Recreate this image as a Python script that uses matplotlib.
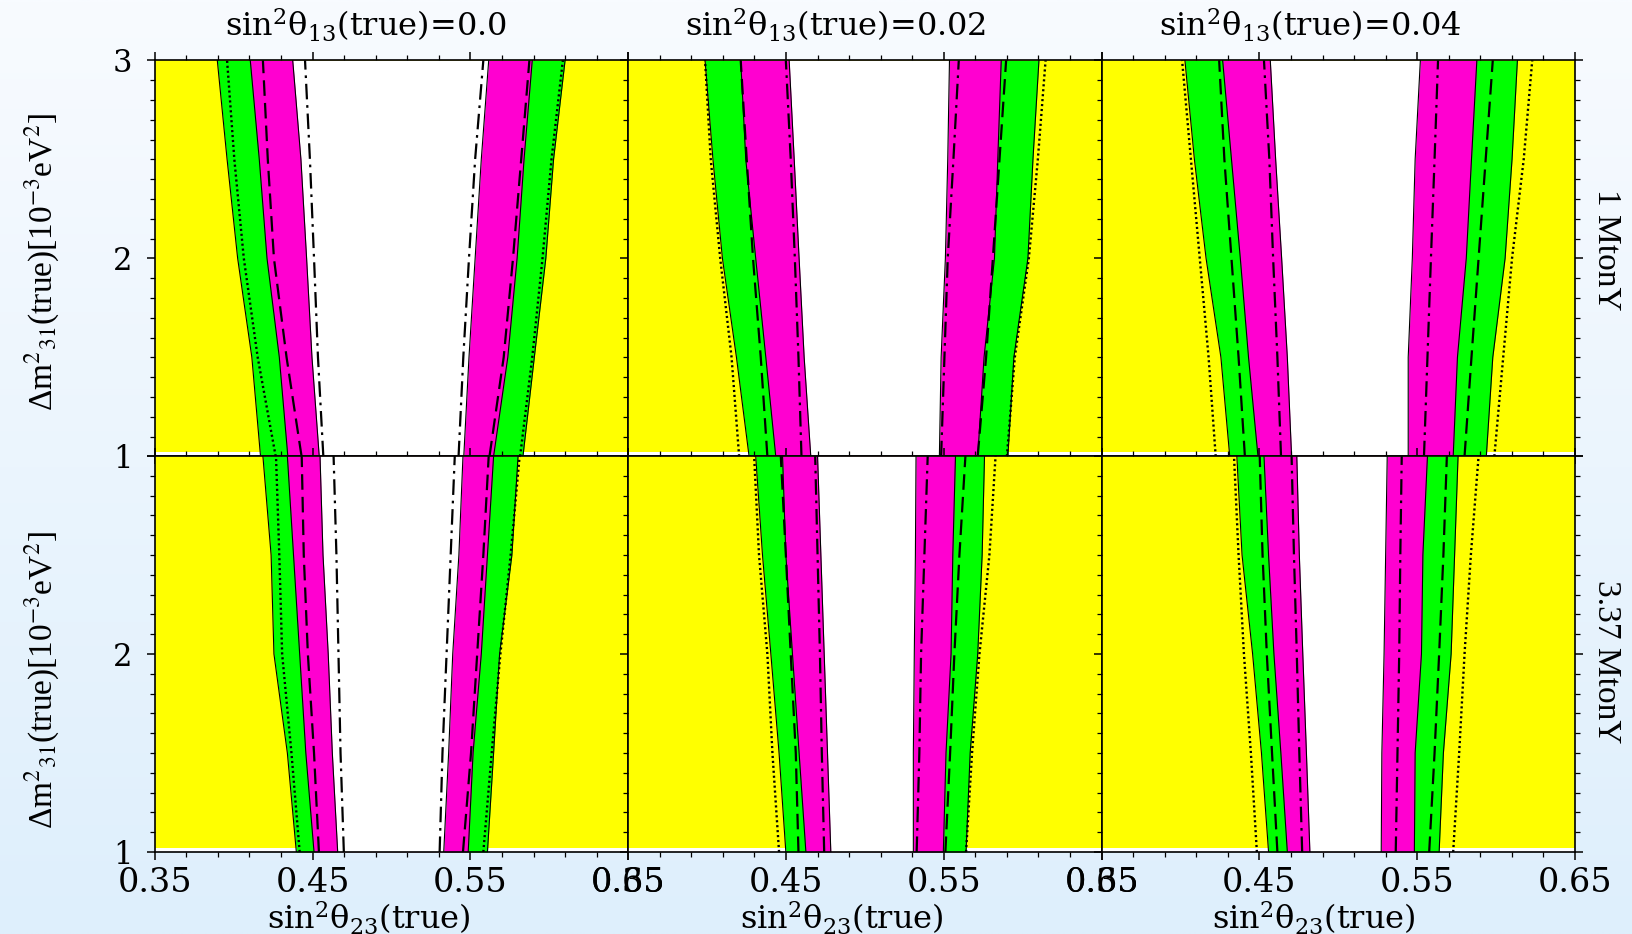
import numpy as np
import matplotlib
matplotlib.use("Agg")
import matplotlib.pyplot as plt
from matplotlib.ticker import FixedLocator

# ---------------- data (sin^2 theta23 boundaries vs Delta m^2_31) ----------------
Y = [1.0, 1.5, 2.0, 2.5, 3.0]

col_titles = ["0.0", "0.02", "0.04"]
row_labels = ["1 MtonY", "3.37 MtonY"]
x_ticks = [0.35, 0.45, 0.55, 0.65]
x_tick_labels = ["0.35", "0.45", "0.55", "0.65"]

# ---- 1 MtonY, sin^2 theta13 = 0.0
m1_s0_dot_L = [0.4266, 0.4152, 0.4064, 0.4004, 0.3958]
m1_s0_grn_L = [0.4170, 0.4115, 0.4025, 0.3958, 0.3896]
m1_s0_gm_L = [0.4343, 0.4289, 0.4211, 0.4162, 0.4105]
m1_s0_dash_L = [0.4430, 0.4335, 0.4255, 0.4216, 0.4185]
m1_s0_mw_L = [0.4542, 0.4496, 0.4462, 0.4426, 0.4374]
m1_s0_dd_L = [0.4568, 0.4534, 0.4509, 0.4483, 0.4452]
m1_s0_mw_R = [0.5458, 0.5491, 0.5530, 0.5569, 0.5616]
m1_s0_dd_R = [0.5425, 0.5455, 0.5491, 0.5530, 0.5582]
m1_s0_dash_R = [0.5621, 0.5711, 0.5770, 0.5822, 0.5874]
m1_s0_gm_R = [0.5647, 0.5737, 0.5796, 0.5840, 0.5892]
m1_s0_dot_R = [0.5815, 0.5892, 0.5957, 0.6014, 0.6086]
m1_s0_grn_R = [0.5833, 0.5905, 0.5978, 0.6027, 0.6100]

# ---- 1 MtonY, sin^2 theta13 = 0.02
m1_s2_dot_L = [0.4203, 0.4155, 0.4083, 0.4023, 0.3987]
m1_s2_grn_L = [0.4266, 0.4186, 0.4097, 0.4037, 0.3987]
m1_s2_gm_L = [0.4435, 0.4372, 0.4308, 0.4245, 0.4213]
m1_s2_dash_L = [0.4382, 0.4340, 0.4291, 0.4251, 0.4213]
m1_s2_mw_L = [0.4657, 0.4615, 0.4583, 0.4552, 0.4520]
m1_s2_dd_L = [0.4598, 0.4579, 0.4556, 0.4530, 0.4499]
m1_s2_mw_R = [0.5472, 0.5483, 0.5510, 0.5525, 0.5536]
m1_s2_dd_R = [0.5483, 0.5504, 0.5525, 0.5561, 0.5595]
m1_s2_gm_R = [0.5715, 0.5755, 0.5821, 0.5842, 0.5864]
m1_s2_dash_R = [0.5715, 0.5768, 0.5811, 0.5853, 0.5895]
m1_s2_grn_R = [0.5906, 0.5944, 0.6033, 0.6065, 0.6103]
m1_s2_dot_R = [0.5900, 0.5950, 0.6039, 0.6096, 0.6145]

# ---- 1 MtonY, sin^2 theta13 = 0.04
m1_s4_dot_L = [0.4223, 0.4178, 0.4122, 0.4066, 0.4010]
m1_s4_grn_L = [0.4312, 0.4256, 0.4162, 0.4088, 0.4028]
m1_s4_gm_L = [0.4491, 0.4431, 0.4379, 0.4323, 0.4267]
m1_s4_dash_L = [0.4408, 0.4368, 0.4323, 0.4278, 0.4245]
m1_s4_mw_L = [0.4704, 0.4677, 0.4641, 0.4603, 0.4569]
m1_s4_dd_L = [0.4637, 0.4614, 0.4587, 0.4563, 0.4529]
m1_s4_mw_R = [0.5443, 0.5443, 0.5469, 0.5487, 0.5520]
m1_s4_dd_R = [0.5543, 0.5565, 0.5587, 0.5610, 0.5632]
m1_s4_gm_R = [0.5728, 0.5755, 0.5811, 0.5844, 0.5878]
m1_s4_dash_R = [0.5800, 0.5844, 0.5889, 0.5934, 0.5979]
m1_s4_grn_R = [0.5938, 0.5979, 0.6057, 0.6101, 0.6135]
m1_s4_dot_R = [0.5989, 0.6045, 0.6101, 0.6175, 0.6229]

# ---- 3.37 MtonY, sin^2 theta13 = 0.0
m3_s0_dot_L = [0.4418, 0.4366, 0.4307, 0.4289, 0.4268]
m3_s0_grn_L = [0.4397, 0.4340, 0.4255, 0.4237, 0.4185]
m3_s0_gm_L = [0.4509, 0.4457, 0.4418, 0.4379, 0.4340]
m3_s0_dash_L = [0.4540, 0.4509, 0.4470, 0.4444, 0.4431]
m3_s0_mw_L = [0.4659, 0.4625, 0.4599, 0.4566, 0.4547]
m3_s0_dd_L = [0.4698, 0.4677, 0.4664, 0.4651, 0.4633]
m3_s0_mw_R = [0.5331, 0.5362, 0.5388, 0.5427, 0.5453]
m3_s0_dd_R = [0.5305, 0.5323, 0.5349, 0.5375, 0.5401]
m3_s0_dash_R = [0.5453, 0.5504, 0.5543, 0.5582, 0.5616]
m3_s0_gm_R = [0.5486, 0.5517, 0.5569, 0.5608, 0.5647]
m3_s0_dot_R = [0.5582, 0.5635, 0.5690, 0.5755, 0.5812]
m3_s0_grn_R = [0.5608, 0.5647, 0.5685, 0.5763, 0.5802]

# ---- 3.37 MtonY, sin^2 theta13 = 0.02
m3_s2_dot_L = [0.4456, 0.4414, 0.4382, 0.4329, 0.4298]
m3_s2_grn_L = [0.4499, 0.4456, 0.4404, 0.4351, 0.4308]
m3_s2_gm_L = [0.4626, 0.4583, 0.4541, 0.4499, 0.4478]
m3_s2_dash_L = [0.4579, 0.4562, 0.4530, 0.4499, 0.4467]
m3_s2_mw_L = [0.4784, 0.4763, 0.4742, 0.4721, 0.4700]
m3_s2_dd_L = [0.4742, 0.4727, 0.4715, 0.4700, 0.4685]
m3_s2_mw_R = [0.5307, 0.5307, 0.5313, 0.5320, 0.5324]
m3_s2_dd_R = [0.5328, 0.5345, 0.5356, 0.5377, 0.5398]
m3_s2_gm_R = [0.5497, 0.5514, 0.5546, 0.5557, 0.5574]
m3_s2_dash_R = [0.5510, 0.5540, 0.5567, 0.5599, 0.5637]
m3_s2_grn_R = [0.5641, 0.5667, 0.5715, 0.5743, 0.5758]
m3_s2_dot_R = [0.5641, 0.5679, 0.5726, 0.5789, 0.5828]

# ---- 3.37 MtonY, sin^2 theta13 = 0.04
m3_s4_dot_L = [0.4484, 0.4446, 0.4402, 0.4368, 0.4339]
m3_s4_grn_L = [0.4558, 0.4513, 0.4457, 0.4390, 0.4357]
m3_s4_gm_L = [0.4677, 0.4636, 0.4592, 0.4558, 0.4529]
m3_s4_dash_L = [0.4614, 0.4580, 0.4547, 0.4520, 0.4502]
m3_s4_mw_L = [0.4820, 0.4798, 0.4775, 0.4753, 0.4737]
m3_s4_dd_L = [0.4771, 0.4753, 0.4737, 0.4719, 0.4704]
m3_s4_mw_R = [0.5272, 0.5276, 0.5290, 0.5300, 0.5310]
m3_s4_dd_R = [0.5364, 0.5375, 0.5386, 0.5393, 0.5402]
m3_s4_gm_R = [0.5482, 0.5487, 0.5527, 0.5536, 0.5565]
m3_s4_dash_R = [0.5576, 0.5610, 0.5639, 0.5666, 0.5688]
m3_s4_grn_R = [0.5639, 0.5666, 0.5715, 0.5737, 0.5759]
m3_s4_dot_R = [0.5728, 0.5766, 0.5800, 0.5840, 0.5889]

# ---------------- assemble ----------------
names = ["dot_L", "grn_L", "gm_L", "dash_L", "mw_L", "dd_L",
         "mw_R", "dd_R", "gm_R", "dash_R", "grn_R", "dot_R"]
G = globals()
panels = {}
for r, rk in enumerate(["m1", "m3"]):
    for c, ck in enumerate(["s0", "s2", "s4"]):
        panels[(r, c)] = {n: G[f"{rk}_{ck}_{n}"] for n in names}

# ---------------- style ----------------
YELLOW = "#ffff00"
GREEN = "#00ff00"
MAGENTA = "#ff00d0"

plt.rcParams["font.family"] = ["DejaVu Serif"]
plt.rcParams["mathtext.fontset"] = "dejavuserif"

W, H = 1633, 934
fig = plt.figure(figsize=(W / 100, H / 100), dpi=100)

# background gradient
bg = fig.add_axes([0, 0, 1, 1], zorder=-10)
top = np.array([248, 251, 255]) / 255.0
bot = np.array([222, 239, 252]) / 255.0
t = np.linspace(0, 1, 256)[:, None]
grad = (top[None, None, :] * (1 - t[..., None]) + bot[None, None, :] * t[..., None])
grad = np.repeat(grad, 4, axis=1)
bg.imshow(grad, aspect="auto", extent=[0, 1, 0, 1], interpolation="bilinear")
bg.set_axis_off()

left0 = 154.8
pw = 473.4
row_top = [60.3, 456.0]
ph = 396.0

axes = {}
for r in range(2):
    for c in range(3):
        x0 = (left0 + c * pw) / W
        y0 = 1 - (row_top[r] + ph) / H
        ax = fig.add_axes([x0, y0, pw / W, ph / H])
        axes[(r, c)] = ax
        d = panels[(r, c)]
        ax.set_facecolor("white")
        ax.fill_between([0.35, 0.65], 1.022, 3.0, color=YELLOW, lw=0, zorder=1)
        ax.fill_betweenx(Y, d["grn_L"], d["grn_R"], color=GREEN, lw=0, zorder=2)
        ax.fill_betweenx(Y, d["gm_L"], d["gm_R"], color=MAGENTA, lw=0, zorder=3)
        ax.fill_betweenx(Y, d["mw_L"], d["mw_R"], color="white", lw=0, zorder=4)
        for n in ["grn_L", "gm_L", "mw_L", "mw_R", "gm_R", "grn_R"]:
            ax.plot(d[n], Y, color="black", lw=0.8, zorder=5)
        for n in ["dot_L", "dot_R"]:
            ax.plot(d[n], Y, color="black", lw=1.7, ls=(0, (0.9, 1.2)), zorder=6)
        for n in ["dash_L", "dash_R"]:
            ax.plot(d[n], Y, color="black", lw=1.6, ls=(0, (7, 3.2)), zorder=6)
        for n in ["dd_L", "dd_R"]:
            ax.plot(d[n], Y, color="black", lw=1.6, ls=(0, (7, 2.6, 1.2, 2.6)), zorder=6)

        ax.set_xlim(0.35, 0.65)
        ax.set_ylim(1, 3)
        ax.xaxis.set_major_locator(FixedLocator(x_ticks))
        ax.xaxis.set_minor_locator(FixedLocator(np.round(np.arange(0.35, 0.6501, 0.02), 3)))
        ax.yaxis.set_major_locator(FixedLocator([1, 2, 3]))
        ax.yaxis.set_minor_locator(FixedLocator(np.round(np.arange(1, 3.001, 0.1), 2)))
        ax.tick_params(which="both", direction="out", top=True, bottom=True,
                       left=True, right=(c == 2), zorder=10)
        ax.tick_params(which="major", length=6, width=1.1)
        ax.tick_params(which="minor", length=3.5, width=0.9)
        ax.tick_params(axis="x", pad=5, labelsize=24)
        ax.tick_params(axis="y", pad=10, labelsize=22)
        for s in ax.spines.values():
            s.set_linewidth(1.2)
            s.set_zorder(9)
        if r == 1:
            ax.set_xticklabels(x_tick_labels)
        else:
            ax.set_xticklabels([])
        if c == 0:
            ax.set_yticklabels(["1", "2", "3"] if r == 0 else ["1", "2", ""])
        else:
            ax.set_yticklabels([])

# titles
title_cx = [366, 836, 1310]
for c in range(3):
    fig.text(title_cx[c] / W, 1 - 25 / H,
             r"sin$^{2}$θ$_{13}$(true)=" + col_titles[c],
             ha="center", va="center", fontsize=23)

# x labels
xl_cx = [369, 842, 1314]
for c in range(3):
    fig.text(xl_cx[c] / W, 1 - 918 / H, r"sin$^{2}$θ$_{23}$(true)",
             ha="center", va="center", fontsize=23)

# y labels
for cy in [262, 680]:
    fig.text(42 / W, 1 - cy / H, r"Δm$^{2}$$_{31}$(true)[10$^{-3}$eV$^{2}$]",
             ha="center", va="center", rotation=90, fontsize=24,
             family="Liberation Serif", math_fontfamily="stix")

# right labels
for cy, lab in zip([250, 662], row_labels):
    fig.text(1606 / W, 1 - cy / H, lab, ha="center", va="center",
             rotation=-90, fontsize=24, family="Liberation Serif")

fig.savefig("out.png", dpi=100)
